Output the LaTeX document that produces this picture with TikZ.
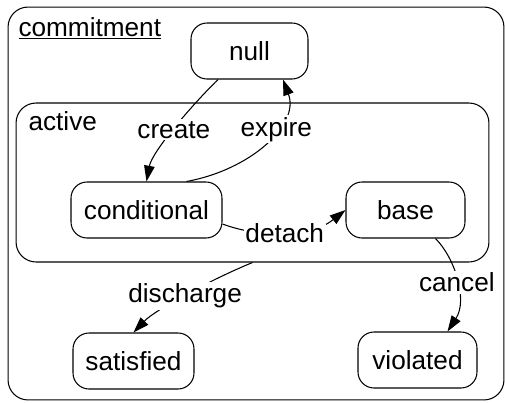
\documentclass[tikz,border=0pt]{standalone}
\usepackage{fontspec}
\setmainfont{Liberation Sans}
\usetikzlibrary{arrows.meta}

\begin{document}
\begin{tikzpicture}[x=0.02cm, y=-0.02cm, >={Triangle[length=9pt,width=6pt]}, line width=0.6pt,
		every node/.style={font=\fontsize{14.9}{17}\selectfont},
		state/.style={draw, rounded corners=0.32cm, inner sep=0pt, minimum height=1.12cm},
		region/.style={draw, rounded corners=0.4cm, inner sep=0pt},
		trans/.style={fill=white, inner sep=1pt}]
	\useasboundingbox (0,0) rectangle (505,403);
	
	% 外框与子区域
	\node[region, minimum width=9.92cm, minimum height=7.86cm] (commitment) at (256,203.5) {};
	\node[region, minimum width=9.46cm, minimum height=3.18cm] (active) at (252.5,182.5) {};
	\node[anchor=base west, inner sep=0pt] (commitmentlabel) at (18,36) {\underline{commitment}};
	\node[anchor=base west, inner sep=0pt] (activelabel) at (28,130) {active};
	
	% 状态
	\node[state, minimum width=2.34cm] (null) at (249.5,51) {null};
	\node[state, minimum width=3.02cm] (conditional) at (146.5,210) {conditional};
	\node[state, minimum width=2.38cm] (base) at (405.5,210) {base};
	\node[state, minimum width=2.42cm] (satisfied) at (133.5,361) {satisfied};
	\node[state, minimum width=2.38cm] (violated) at (417.5,360) {violated};
	
	% 转移
	\draw[->] ([xshift=-0.63cm]null.south) .. controls (190,107) and (152,152) .. node[trans] {create} (conditional.north);
	\draw[->] ([xshift=0.8cm]conditional.north) .. controls (250,170) and (300,125) .. node[trans, pos=0.62] {expire} ([xshift=0.67cm]null.south);
	\draw[->] ([yshift=-0.28cm]conditional.east) .. controls (260,238) and (310,238) .. node[trans] {detach} (base.west);
	\draw[->] (active.south) .. controls (210,280) and (155,310) .. node[trans] {discharge} (satisfied.north);
	\draw[->] ([xshift=0.6cm]base.south) .. controls (455,258) and (468,300) .. node[trans, pos=0.52] {cancel} ([xshift=0.6cm]violated.north);
\end{tikzpicture}
\end{document}
